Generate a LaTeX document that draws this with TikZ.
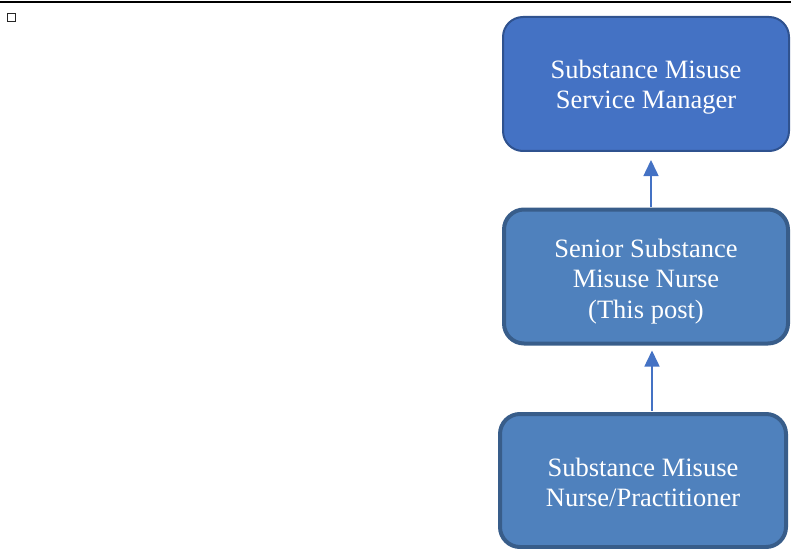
\documentclass[tikz,border=0pt]{standalone}
\usepackage{fontspec}
\setmainfont{Liberation Serif}
\usetikzlibrary{arrows.meta}
\definecolor{topfill}{HTML}{4472C4}
\definecolor{topedge}{HTML}{2F528F}
\definecolor{midfill}{HTML}{4F81BD}
\definecolor{midedge}{HTML}{385D8A}
\definecolor{arrcol}{HTML}{4472C4}
\newcommand\lowline[2]{\raisebox{-#1}[\height][\depth]{#2}}
\tikzset{
  rolebox/.style={draw, rounded corners=20pt, align=center, text=white,
    font=\fontsize{26.5}{30.5}\selectfont, inner sep=0pt},
  arr/.style={draw=arrcol, line width=1.5pt, -{Triangle[width=15pt,length=16pt]}, fill=arrcol}
}
\begin{document}
\begin{tikzpicture}[x=1pt,y=-1pt]
\useasboundingbox (0,0) rectangle (791,548);
\draw[line width=2pt] (0,2) -- (791,2);
\node[draw=black!85, line width=1.1pt, fill=white, minimum size=8.5pt, inner sep=0pt] (sq) at (11.5,17.5) {};
\node[rolebox, fill=topfill, draw=topedge, line width=2pt, minimum width=286pt, minimum height=134pt] (b1) at (646,84)
  {\lowline{3pt}{Substance Misuse}\\\lowline{3pt}{Service Manager}};
\node[rolebox, fill=midfill, draw=midedge, line width=4pt, minimum width=284pt, minimum height=134pt] (b2) at (646,276.5)
  {\lowline{5pt}{Senior Substance}\\\lowline{5pt}{Misuse Nurse}\\\lowline{5pt}{(This post)}};
\node[rolebox, fill=midfill, draw=midedge, line width=4pt, minimum width=286pt, minimum height=133pt] (b3) at (643,480.5)
  {\lowline{2pt}{Substance Misuse}\\\lowline{2pt}{Nurse/Practitioner}};
\draw[arr, shorten >=8pt, shorten <=1pt] ([xshift=5pt]b2.north) -- ([xshift=5pt]b1.south);
\draw[arr, shorten >=5pt, shorten <=1pt] ([xshift=9pt]b3.north) -- ([xshift=6pt]b2.south);
\end{tikzpicture}
\end{document}
